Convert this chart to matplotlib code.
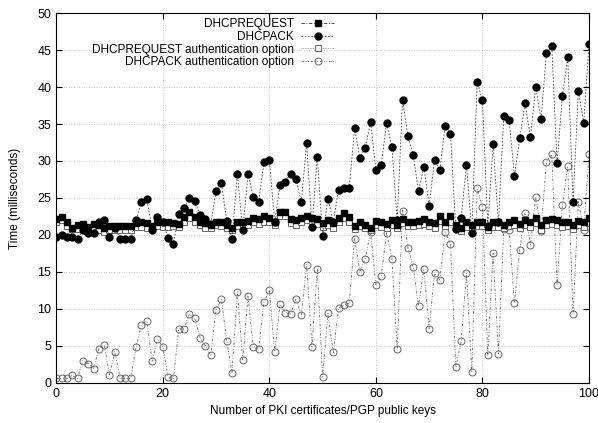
import numpy as np
import matplotlib.pyplot as plt

plt.rcParams['font.family'] = ['Liberation Sans', 'DejaVu Sans']

# number of keys on the x axis
keys = list(range(101))

dhcprequest = [22.2, 22.4, 21.7, 21.0, 21.4, 21.5, 21.1, 21.5, 21.4, 20.9,
               21.2, 21.2, 21.2, 21.2, 21.2, 21.6, 21.7, 21.6, 21.2, 21.7,
               21.7, 21.8, 21.6, 21.5, 22.4, 23.1, 22.4, 21.8, 21.6, 21.4,
               21.8, 21.7, 21.4, 21.0, 21.8, 21.8, 21.9, 22.3, 22.1, 22.5,
               22.3, 21.8, 23.1, 23.1, 22.2, 22.0, 22.3, 22.6, 22.3, 22.1,
               21.6, 22.0, 21.6, 22.3, 22.9, 22.4, 21.2, 21.7, 21.4, 21.0,
               21.9, 21.7, 21.5, 22.0, 21.4, 22.2, 21.8, 21.8, 21.9, 22.1,
               21.8, 21.6, 22.6, 21.8, 22.5, 21.4, 20.9, 21.7, 21.3, 21.8,
               21.8, 21.1, 21.7, 21.7, 21.4, 21.8, 22.0, 21.5, 22.0, 21.7,
               22.3, 21.3, 22.0, 22.1, 22.0, 21.7, 21.8, 21.3, 21.9, 21.7, 22.3]

dhcpack = [19.7, 20.0, 19.7, 19.7, 19.5, 20.6, 20.2, 20.3, 21.8, 22.0,
           19.7, 21.0, 19.5, 19.5, 19.5, 22.0, 24.5, 24.9, 20.7, 22.4,
           21.7, 19.6, 18.8, 22.8, 23.6, 25.0, 24.6, 22.7, 22.1, 21.5,
           25.9, 27.0, 21.9, 19.5, 28.3, 20.6, 28.2, 25.1, 24.5, 29.9,
           30.2, 21.8, 26.7, 27.2, 28.3, 27.5, 24.5, 32.4, 21.1, 30.6,
           19.8, 24.9, 21.8, 26.1, 26.4, 26.4, 34.4, 30.4, 31.8, 35.3,
           28.8, 29.5, 35.1, 31.9, 22.0, 38.3, 33.4, 30.8, 25.9, 29.2,
           23.9, 30.1, 28.8, 34.8, 33.7, 20.8, 22.3, 29.5, 20.3, 40.7,
           38.2, 21.2, 32.3, 21.7, 36.1, 35.5, 28.0, 33.1, 37.8, 33.2,
           40.0, 35.7, 44.6, 45.6, 29.7, 38.8, 44.0, 24.4, 39.5, 35.2, 45.8]

request_auth = [21.8, 22.0, 21.2, 20.8, 20.8, 20.9, 20.7, 20.9, 20.7, 20.4,
                20.7, 20.7, 20.7, 20.7, 20.7, 21.1, 21.1, 21.0, 20.9, 21.2,
                21.1, 21.1, 21.2, 21.1, 21.8, 22.3, 21.8, 21.3, 20.9, 20.9,
                21.3, 21.2, 20.9, 20.6, 21.2, 21.3, 21.4, 21.7, 21.5, 21.8,
                21.7, 21.3, 22.5, 22.5, 21.6, 21.4, 21.7, 22.0, 21.7, 21.5,
                21.1, 21.4, 21.0, 21.7, 22.3, 21.8, 20.8, 21.2, 20.9, 20.6,
                21.3, 21.1, 21.0, 21.4, 20.9, 21.6, 21.2, 21.2, 21.3, 21.5,
                21.2, 21.0, 21.9, 21.2, 21.8, 20.9, 20.5, 21.1, 20.8, 21.2,
                21.2, 20.6, 21.1, 21.1, 20.9, 21.2, 21.4, 21.0, 21.4, 21.1,
                21.6, 20.7, 21.4, 21.5, 21.4, 21.1, 21.2, 20.8, 21.3, 21.1, 21.6]

ack_auth = [0.6, 0.6, 0.6, 1.0, 0.6, 3.0, 2.6, 1.9, 4.6, 5.1,
            1.1, 4.2, 0.6, 0.6, 0.6, 4.9, 7.8, 8.4, 2.9, 5.9,
            4.9, 0.8, 0.6, 7.3, 7.3, 9.3, 8.7, 6.1, 5.0, 3.7,
            9.9, 11.3, 5.7, 1.3, 12.3, 3.1, 11.7, 4.8, 4.6, 10.9,
            12.5, 4.2, 10.6, 9.5, 9.3, 11.3, 9.2, 16.0, 4.9, 15.4,
            0.8, 9.4, 4.1, 10.1, 10.5, 10.8, 19.5, 15.0, 16.8, 20.4,
            13.2, 14.5, 20.3, 16.8, 4.6, 23.3, 18.3, 15.6, 10.4, 15.4,
            7.3, 14.8, 13.9, 20.4, 18.8, 2.1, 5.6, 14.8, 1.4, 26.3,
            23.8, 3.7, 17.5, 3.9, 20.8, 20.7, 10.8, 18.0, 23.0, 18.7,
            25.1, 20.5, 29.9, 30.9, 13.2, 24.0, 29.3, 9.3, 24.5, 20.7, 30.9]

fig, ax = plt.subplots(figsize=(5.98, 4.23), dpi=100)
fig.subplots_adjust(left=0.094, right=0.985, bottom=0.095, top=0.969)

ax.plot(keys, ack_auth, color='#666666', lw=0.6, ls=(0, (3, 2, 1, 2, 1, 2)),
        marker='o', ms=5, mfc='none', mec='#666666', mew=0.7,
        label='DHCPACK authentication option')
ax.plot(keys, request_auth, color='#888888', lw=0.6, ls=(0, (1, 1)),
        marker='s', ms=4.5, mfc='white', mec='#666666', mew=0.7,
        label='DHCPREQUEST authentication option')
ax.plot(keys, dhcpack, color='#444444', lw=0.6, ls=(0, (2, 2)),
        marker='o', ms=5, mfc='black', mec='black',
        label='DHCPACK')
ax.plot(keys, dhcprequest, color='#333333', lw=0.6, ls=(0, (4, 2, 1, 2)),
        marker='s', ms=4.5, mfc='black', mec='black',
        label='DHCPREQUEST')

ax.set_xlim(0, 100)
ax.set_ylim(0, 50)
ax.set_xticks(np.arange(0, 101, 20))
ax.set_yticks(np.arange(0, 51, 5))
ax.tick_params(direction='in', top=True, right=True, labelsize=9, length=4)
ax.grid(True, color='#bbbbbb', ls=(0, (1, 2)), lw=0.6)
ax.set_xlabel('Number of PKI certificates/PGP public keys', fontsize=8.5)
ax.set_ylabel('Time (milliseconds)', fontsize=8.5, labelpad=12)

h, l = ax.get_legend_handles_labels()
ax.legend(h[::-1], l[::-1], loc='upper right', bbox_to_anchor=(0.537, 1.008),
          frameon=False, markerfirst=False, fontsize=8.5, handlelength=2.8,
          labelspacing=0.05, borderpad=0.2, handletextpad=0.6)

plt.savefig('out.png')
